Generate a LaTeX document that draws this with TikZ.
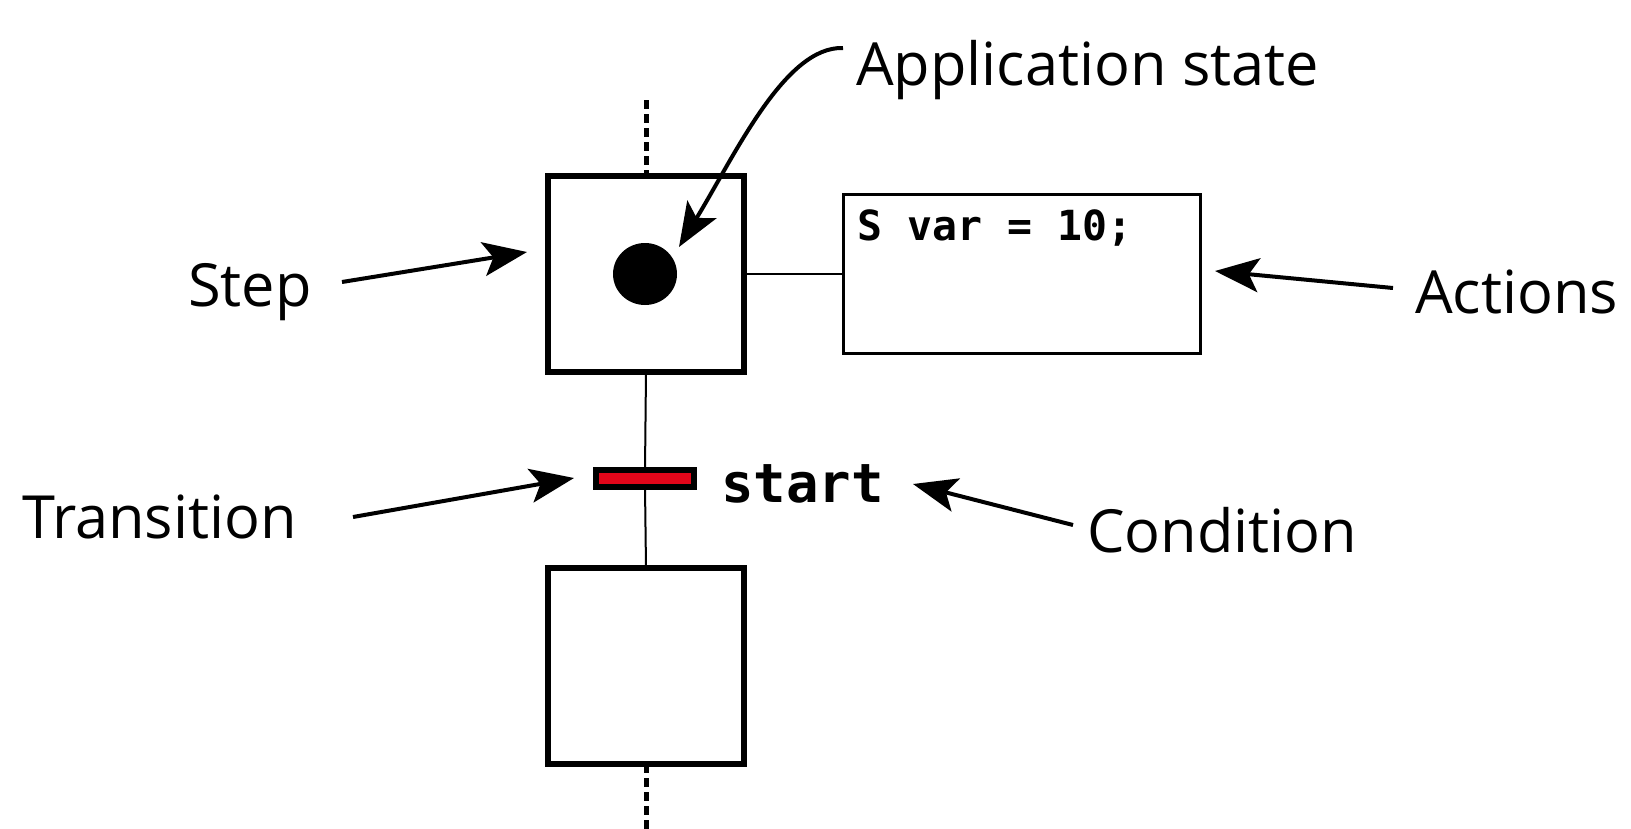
\documentclass[tikz,border=0pt]{standalone}
\usepackage{fontspec}
\setmainfont{Open Sans}
\newfontfamily\codefont{DejaVu Sans Mono}
\usetikzlibrary{arrows.meta,shapes.geometric}
\definecolor{transred}{HTML}{E3061A}
\begin{document}
\begin{tikzpicture}[x=1pt,y=-1pt,
  stepbox/.style={draw, line width=6pt, minimum width=196pt, minimum height=196pt, inner sep=0pt, outer sep=0pt},
  actbox/.style={draw, line width=3pt, minimum width=357pt, minimum height=159pt, inner sep=0pt, outer sep=0pt},
  transbar/.style={draw, fill=transred, line width=6pt, minimum width=98pt, minimum height=17pt, inner sep=0pt, outer sep=0pt},
  lbl/.style={font=\fontsize{59.5}{70}\selectfont, anchor=base west, inner sep=0pt},
  codetxt/.style={font=\codefont\bfseries\fontsize{41.5}{48}\selectfont, anchor=base west, inner sep=0pt},
  condtxt/.style={font=\codefont\bfseries\fontsize{54}{60}\selectfont, anchor=base west, inner sep=0pt},
  thin/.style={line width=2pt},
  dashline/.style={line width=5pt, dash pattern=on 9pt off 5pt},
  arr/.style={line width=4pt, -{Stealth[length=44pt,width=34pt,inset=10pt]}}
]
\useasboundingbox (0,0) rectangle (1631,828);

% steps
\node[stepbox] (step1) at (646,274) {};
\node[stepbox] (step2) at (646,666) {};
\node[ellipse, fill=black, minimum width=64pt, minimum height=62pt, inner sep=0pt] (dot) at (645,274) {};

% transition
\node[transbar] (trans) at (645,478.5) {};

% action box
\node[actbox] (act) at (1022,274) {};
\node[codetxt] (code) at (857,240) {S var = 10;};
\node[condtxt] (cond) at (721,502) {start};

% connectors
\coordinate (topend) at (646,100);
\coordinate (botend) at (646,830);
\draw[dashline] (topend) -- (step1.north);
\draw[dashline] (step2.south) -- (botend);
\draw[thin] (step1.south) -- (trans.north);
\draw[thin] (trans.south) -- (step2.north);
\draw[thin] (step1.east) -- (act.west);

% labels
\node[lbl] (lapp) at (856,85) {Application state};
\node[lbl] (lstep) at (188,306) {Step};
\node[lbl] (lact) at (1415,313) {Actions};
\node[lbl] (ltrans) at (22,538) {Transition};
\node[lbl] (lcond) at (1087,552) {Condition};

% arrows
\coordinate (s1) at (342,282); \coordinate (s2) at (527,252);
\coordinate (t1) at (353,517); \coordinate (t2) at (574,478);
\coordinate (a1) at (1393,288); \coordinate (a2) at (1215,271);
\coordinate (c1) at (1073,525); \coordinate (c2) at (913,484);
\coordinate (p1) at (843,48); \coordinate (p2) at (679,247);
\draw[arr] (s1) -- (s2);
\draw[arr] (t1) -- (t2);
\draw[arr] (a1) -- (a2);
\draw[arr] (c1) -- (c2);
\draw[arr] (p1) .. controls (785,46) and (735,155) .. (p2);
\end{tikzpicture}
\end{document}
